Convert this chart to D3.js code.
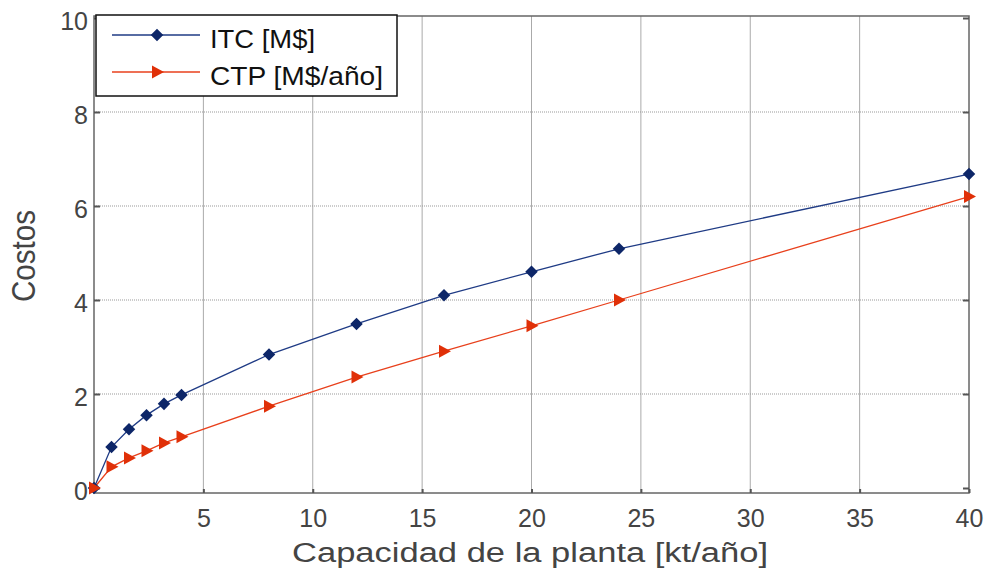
<!DOCTYPE html>
<html>
<head>
<meta charset="utf-8">
<script src="https://cdn.jsdelivr.net/npm/d3@7"></script>
<style>
  body { margin: 0; background: #fff; }
  svg { font-family: "Liberation Sans", Arial, sans-serif; }
</style>
</head>
<body>
<script>
// data
var capacidad = [0, 0.8, 1.6, 2.4, 3.2, 4, 8, 12, 16, 20, 24, 40];
var itc = [0, 0.87, 1.25, 1.55, 1.79, 1.98, 2.84, 3.49, 4.1, 4.6, 5.09, 6.68];
var ctp = [0, 0.45, 0.64, 0.79, 0.96, 1.09, 1.74, 2.36, 2.91, 3.45, 4.0, 6.2];
var xTicks = [5, 10, 15, 20, 25, 30, 35, 40];
var yTicks = [0, 2, 4, 6, 8, 10];

var W = 991, H = 572;
var margin = {top: 18, right: 22, bottom: 84, left: 94};
var width = W - margin.left - margin.right,
    height = H - margin.top - margin.bottom;

var svg = d3.select("body").append("svg")
  .attr("width", W).attr("height", H);
var g = svg.append("g")
  .attr("transform", "translate(" + margin.left + "," + margin.top + ")");

var x = d3.scaleLinear().domain([0, 40]).range([0, width]);
var y = d3.scaleLinear().domain([0, 10]).range([height, 0]);

// grid
g.selectAll(".vgrid").data(xTicks.slice(0, -1)).enter().append("line")
  .attr("x1", d => x(d)).attr("x2", d => x(d))
  .attr("y1", -2).attr("y2", height + 5)
  .attr("stroke", "#aaa").attr("stroke-width", 1);
g.selectAll(".hgrid").data(yTicks.slice(1, -1)).enter().append("line")
  .attr("x1", 0).attr("x2", width)
  .attr("y1", d => y(d)).attr("y2", d => y(d))
  .attr("stroke", "#999").attr("stroke-width", 1)
  .attr("stroke-dasharray", "1,1");

// axis box
g.append("rect")
  .attr("x", 0).attr("y", -2)
  .attr("width", width).attr("height", height + 7)
  .attr("fill", "none").attr("stroke", "#666").attr("stroke-width", 1.5);

// axes
var xAxis = g.append("g")
  .attr("transform", "translate(0," + (height + 5) + ")")
  .call(d3.axisBottom(x).tickValues(xTicks).tickSize(-4).tickPadding(16));
var yAxis = g.append("g")
  .call(d3.axisLeft(y).tickValues(yTicks).tickSize(-6).tickPadding(6));
var yAxisR = g.append("g")
  .attr("transform", "translate(" + width + ",0)")
  .call(d3.axisRight(y).tickValues(yTicks).tickSize(-6).tickFormat(""));
[xAxis, yAxis, yAxisR].forEach(function(a) {
  a.select(".domain").remove();
  a.selectAll(".tick line").attr("stroke", "#555").attr("stroke-width", 2);
  a.selectAll("text").attr("fill", "#444").style("font-size", "25px");
});
yAxis.selectAll("text").attr("dy", "0.45em");

// axis titles
svg.append("text")
  .attr("x", 292).attr("y", 562)
  .attr("fill", "#444")
  .attr("textLength", 476).attr("lengthAdjust", "spacingAndGlyphs")
  .style("font-size", "27px")
  .text("Capacidad de la planta [kt/año]");
svg.append("text")
  .attr("transform", "translate(35,302) rotate(-90)")
  .attr("fill", "#444")
  .attr("textLength", 92).attr("lengthAdjust", "spacingAndGlyphs")
  .style("font-size", "34px")
  .text("Costos");

// series
var line = d3.line().x((d, i) => x(capacidad[i])).y(d => y(d));
g.append("path").datum(itc)
  .attr("d", line).attr("fill", "none")
  .attr("stroke", "#1f3b85").attr("stroke-width", 1.3);
g.append("path").datum(ctp)
  .attr("d", line).attr("fill", "none")
  .attr("stroke", "#e8401c").attr("stroke-width", 1.3);

var diamond = d3.symbol().type(d3.symbolDiamond2).size(100);
var tri = "M-5,-6.5L7,0L-5,6.5Z";

g.selectAll(".itc").data(itc).enter().append("path")
  .attr("transform", (d, i) => "translate(" + x(capacidad[i]) + "," + y(d) + ")")
  .attr("d", diamond).attr("fill", "#0d2668");
g.selectAll(".ctp").data(ctp).enter().append("path")
  .attr("transform", (d, i) => "translate(" + x(capacidad[i]) + "," + y(d) + ")")
  .attr("d", tri).attr("fill", "#e03008");

// legend
var lg = svg.append("g").attr("transform", "translate(96,15)");
lg.append("rect")
  .attr("width", 301).attr("height", 81)
  .attr("fill", "#fff").attr("stroke", "#111").attr("stroke-width", 1.5);
lg.append("line").attr("x1", 16).attr("x2", 104).attr("y1", 20).attr("y2", 20)
  .attr("stroke", "#1f3b85").attr("stroke-width", 1.3);
lg.append("path").attr("transform", "translate(61,20)").attr("d", diamond).attr("fill", "#0d2668");
lg.append("line").attr("x1", 16).attr("x2", 104).attr("y1", 57).attr("y2", 57)
  .attr("stroke", "#e8401c").attr("stroke-width", 1.3);
lg.append("path").attr("transform", "translate(61,57)").attr("d", tri).attr("fill", "#e03008");
lg.append("text").attr("x", 114).attr("y", 33).style("font-size", "25px").attr("fill", "#111")
  .attr("textLength", 105).attr("lengthAdjust", "spacingAndGlyphs")
  .text("ITC [M$]");
lg.append("text").attr("x", 114).attr("y", 70).style("font-size", "25px").attr("fill", "#111")
  .attr("textLength", 173).attr("lengthAdjust", "spacingAndGlyphs")
  .text("CTP [M$/año]");
</script>
</body>
</html>
